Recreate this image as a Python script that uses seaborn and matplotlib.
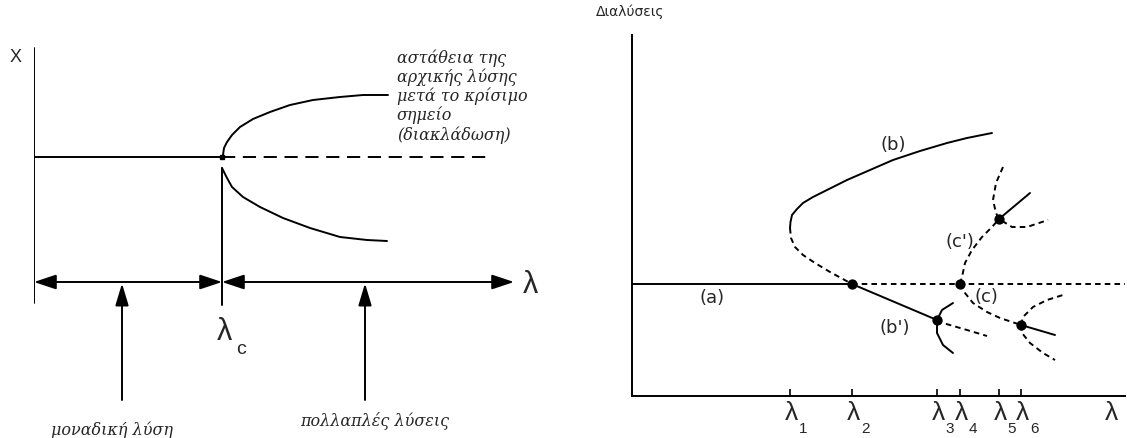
import matplotlib
matplotlib.use("Agg")
import matplotlib.pyplot as plt
import seaborn as sns
import pandas as pd

sns.set_theme(style="white")
plt.rcParams["font.family"] = ["DejaVu Sans"]
plt.rcParams["lines.scale_dashes"] = False

# ---------------- left panel: simple pitchfork ----------------
lam_c = 18.8            # critical point
x_base = 12.5           # basic solution level
lam_dash_end = 45.4
upper_lam = [18.8, 18.9, 19.0, 19.3, 19.8, 20.6, 21.9, 23.6, 25.6, 27.9,
             30.6, 32.9, 35.4]
upper_x = [12.5, 12.7, 13.4, 14.0, 14.7, 15.5, 16.3, 17.0, 17.7, 18.2,
           18.5, 18.7, 18.7]
lower_lam = [18.8, 18.9, 19.3, 19.8, 20.9, 22.6, 24.9, 27.6, 30.6, 33.3, 35.3]
lower_x = [11.4, 11.2, 10.4, 9.5, 8.5, 7.5, 6.4, 5.4, 4.5, 4.2, 4.1]
left_axis_top, left_axis_bottom = 23.4, -2.1
lam_axis_end = 48.0
arrow_single, arrow_multi = 8.8, 33.1
arrow_foot = -11.8
note_lines = ["αστάθεια της", "αρχικής λύσης", "μετά το κρίσιμο",
              "σημείο", "(διακλάδωση)"]

# ---------------- right panel: secondary bifurcations ----------------
lam_ticks = [15.8, 22.0, 30.5, 32.8, 36.7, 38.9]
tick_subs = ["1", "2", "3", "4", "5", "6"]
s_a = 11.2
lam_right_end = 49.3
b_up_lam = [15.8, 15.85, 16.0, 16.5, 17.1, 18.1, 19.5, 21.5, 23.8, 26.1,
            28.8, 31.5, 33.5, 36.0]
b_up_s = [16.8, 17.4, 18.1, 18.7, 19.3, 19.9, 20.6, 21.6, 22.6, 23.6,
          24.5, 25.3, 25.8, 26.3]
b_lo_lam = [15.8, 15.9, 16.3, 17.1, 18.3, 19.8, 22.0]
b_lo_s = [16.8, 15.8, 14.9, 14.1, 13.3, 12.4, 11.2]
bp_lam = [22.0, 30.5]
bp_s = [11.2, 7.6]
arc3_lam = [32.1, 31.0, 30.5, 30.5, 31.1, 32.1]
arc3_s = [9.3, 8.6, 7.6, 6.3, 5.1, 4.3]
tail3_lam = [30.5, 31.1, 33.5, 35.5]
tail3_s = [7.6, 7.3, 6.6, 6.0]
cp_lam = [32.8, 33.0, 33.3, 34.0, 35.0, 36.0, 36.7]
cp_s = [11.2, 11.9, 13.3, 14.6, 15.9, 16.9, 17.7]
c_lam = [32.8, 33.3, 34.1, 35.5, 36.8, 38.9]
c_s = [11.2, 10.3, 9.3, 8.4, 7.8, 7.1]
s5_lam = [36.7, 39.8]
s5_s = [17.7, 20.3]
arc5_lam = [37.1, 36.4, 36.1, 36.4, 36.7, 38.0, 39.5, 41.6]
arc5_s = [22.9, 21.3, 19.6, 18.3, 17.7, 16.9, 16.9, 17.6]
s6_lam = [38.9, 42.3]
s6_s = [7.1, 6.1]
up6_lam = [38.9, 39.1, 40.1, 41.5, 43.1]
up6_s = [7.1, 7.9, 8.9, 9.6, 10.1]
dn6_lam = [38.9, 39.0, 39.8, 41.1, 42.3]
dn6_s = [7.1, 6.3, 5.3, 4.3, 3.6]
dot_lam = [22.0, 30.5, 32.8, 36.7, 38.9]
dot_s = [11.2, 7.6, 11.2, 17.7, 7.1]
branch_labels = ["(a)", "(b)", "(b')", "(c')", "(c)"]
label_lam = [8.0, 26.1, 26.3, 32.8, 35.4]
label_s = [9.8, 25.1, 6.8, 15.4, 9.9]

LW = 1.4
INK = "black"
DASH_L = (0, (9.5, 5.5))
DASH_R = (0, (4.0, 3.0))

fig = plt.figure(figsize=(11.27, 4.38), dpi=100)

# ============ left panel ============
axL = fig.add_axes([34 / 1127, 0, 520 / 1127, 400 / 438])
axL.set_xlim(0, 52)
axL.set_ylim(-15.6, 24.4)
axL.axis("off")

left_branches = [
    ([0, lam_c], [x_base, x_base], "-"),
    ([lam_c, lam_dash_end], [x_base, x_base], DASH_L),
    (upper_lam, upper_x, "-"),
    (lower_lam, lower_x, "-"),
    ([0, 0], [left_axis_bottom, left_axis_top], "-"),
    ([lam_c, lam_c], [left_axis_bottom - 0.2, lower_x[0]], "-"),
]
for xs, ys, ls in left_branches:
    df = pd.DataFrame({"lam": xs, "x": ys})
    sns.lineplot(data=df, x="lam", y="x", sort=False, estimator=None,
                 color=INK, lw=LW, linestyle=ls, ax=axL)
axL.plot([lam_c], [x_base], marker="s", ms=3.5, color=INK)

arrow_kw = dict(arrowstyle="<|-|>,head_length=0.9,head_width=0.3",
                color=INK, lw=LW, shrinkA=0, shrinkB=0, mutation_scale=15)
axL.annotate("", xy=(0, 0), xytext=(lam_c, 0), arrowprops=arrow_kw)
axL.annotate("", xy=(lam_c, 0), xytext=(lam_axis_end, 0), arrowprops=arrow_kw)
up_kw = dict(arrowstyle="-|>,head_length=0.9,head_width=0.27",
             color=INK, lw=LW, shrinkA=0, shrinkB=1, mutation_scale=15)
for a in (arrow_single, arrow_multi):
    axL.annotate("", xy=(a, 0), xytext=(a, arrow_foot), arrowprops=up_kw)

axL.text(-1.8, 22.5, "X", fontsize=13, ha="center", va="center",
         family="Liberation Sans")
axL.text(49.6, -0.3, "λ", fontsize=22, ha="center", va="center",
         family="Liberation Sans")
axL.text(lam_c + 0.2, -5.0, "λ", fontsize=22, ha="center", va="center",
         family="Liberation Sans")
axL.text(lam_c + 1.9, -6.8, "c", fontsize=14, ha="center", va="center",
         family="Liberation Sans")
note_y = [22.4, 20.5, 18.6, 16.7, 14.7]
for txt, y in zip(note_lines, note_y):
    axL.text(36.3, y, txt, fontsize=11.5, style="italic", family="DejaVu Serif",
             ha="left", va="center")
axL.text(7.8, -14.8, "μοναδική λύση", fontsize=11.5, style="italic",
         family="DejaVu Serif", ha="center", va="center", clip_on=False)
axL.text(34.1, -13.9, "πολλαπλές λύσεις", fontsize=11.5, style="italic",
         family="DejaVu Serif", ha="center", va="center", clip_on=False)

# ============ right panel ============
axR = fig.add_axes([632 / 1127, 42 / 438, 493 / 1127, 361 / 438])
axR.set_xlim(0, lam_right_end)
axR.set_ylim(0, 36.1)
for side in ("top", "right"):
    axR.spines[side].set_visible(False)
for side in ("left", "bottom"):
    axR.spines[side].set_linewidth(LW)
    axR.spines[side].set_color(INK)
axR.set_xticks(lam_ticks)
axR.set_yticks([])
axR.tick_params(axis="x", direction="in", length=5, width=1.2, color=INK,
                labelbottom=False, bottom=True)
axR.grid(False)
axR.set_facecolor("white")

right_branches = [
    ([0, bp_lam[0]], [s_a, s_a], "-"),
    ([bp_lam[0], lam_right_end], [s_a, s_a], DASH_R),
    (b_up_lam, b_up_s, "-"),
    (b_lo_lam, b_lo_s, DASH_R),
    (bp_lam, bp_s, "-"),
    (arc3_lam, arc3_s, "-"),
    (tail3_lam, tail3_s, DASH_R),
    (cp_lam, cp_s, DASH_R),
    (c_lam, c_s, DASH_R),
    (s5_lam, s5_s, "-"),
    (arc5_lam, arc5_s, DASH_R),
    (s6_lam, s6_s, "-"),
    (up6_lam, up6_s, DASH_R),
    (dn6_lam, dn6_s, DASH_R),
]
for xs, ys, ls in right_branches:
    df = pd.DataFrame({"lam": xs, "s": ys})
    sns.lineplot(data=df, x="lam", y="s", sort=False, estimator=None,
                 color=INK, lw=LW, linestyle=ls, ax=axR)
sns.scatterplot(x=dot_lam, y=dot_s, s=55, color=INK, edgecolor=INK,
                linewidth=0, zorder=5, ax=axR)
axR.set_xlabel("")
axR.set_ylabel("")

for txt, x, y in zip(branch_labels, label_lam, label_s):
    axR.text(x, y, txt, fontsize=13, ha="center", va="center")

for t, sub in zip(lam_ticks, tick_subs):
    axR.annotate("λ", xy=(t, 0), xytext=(1.5, -17), textcoords="offset pixels",
                 ha="center", va="center", fontsize=19,
                 family="Liberation Sans", annotation_clip=False)
    axR.annotate(sub, xy=(t, 0), xytext=(13, -33), textcoords="offset pixels",
                 ha="center", va="center", fontsize=11,
                 family="Liberation Sans", annotation_clip=False)
axR.annotate("λ", xy=(47.9, 0), xytext=(0, -17), textcoords="offset pixels",
             ha="center", va="center", fontsize=19, family="Liberation Sans",
             annotation_clip=False)
axR.text(-0.2, 38.4, "Διαλύσεις", fontsize=10, ha="center", va="center",
         clip_on=False)

fig.savefig("out.png", dpi=100, facecolor="white")
